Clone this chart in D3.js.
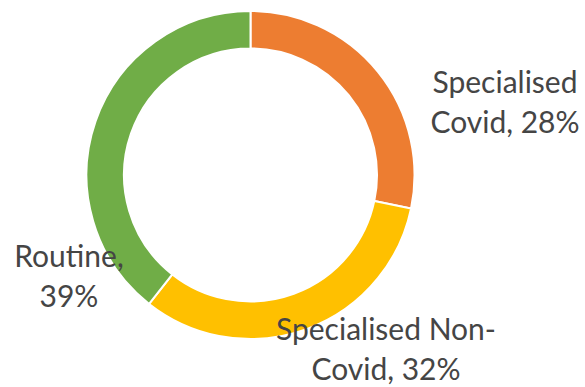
<!DOCTYPE html>
<html>
<head>
<meta charset="utf-8">
<script src="https://cdn.jsdelivr.net/npm/d3@7"></script>
<style>
  html, body { margin: 0; padding: 0; background: #fff; }
  svg { display: block; }
</style>
</head>
<body>
<svg id="chart" width="585" height="387"></svg>
<script>
// Share of activity by service type
const categories = ["Specialised Covid", "Specialised Non-Covid", "Routine"];
const shares = [28, 32, 39];
const colors = ["#ED7D31", "#FFC000", "#70AD47"];

// Label text lines, split the way they wrap
const labelLines = [
  ["Specialised", "Covid, 28%"],
  ["Specialised Non-", "Covid, 32%"],
  ["Routine,", "39%"]
];

const width = 585, height = 387;
const cx = 250.5, cy = 175;
const outerR = 164, innerR = 126.5;

const svg = d3.select("#chart");
const g = svg.append("g").attr("transform", `translate(${cx},${cy})`);

const data = categories.map((c, i) => ({ name: c, value: shares[i], color: colors[i], lines: labelLines[i] }));

const pie = d3.pie().value(d => d.value).sort(null);
const arc = d3.arc().innerRadius(innerR).outerRadius(outerR);

const arcs = pie(data);

g.selectAll("path.slice")
  .data(arcs)
  .join("path")
  .attr("class", "slice")
  .attr("d", arc)
  .attr("fill", d => d.data.color)
  .attr("stroke", "#fff")
  .attr("stroke-width", 2)
  .attr("stroke-linejoin", "miter");

// Label anchor points (centre of first line's baseline)
const labelPos = {
  "Specialised Covid": [505, 93],
  "Specialised Non-Covid": [386, 340],
  "Routine": [69, 267]
};
const lineGap = 40;

const labels = svg.append("g")
  .attr("font-family", "Lato, 'Open Sans', sans-serif")
  .attr("font-size", 30)
  .attr("fill", "#454545")
  .attr("text-anchor", "middle");

arcs.forEach(a => {
  const [x, y] = labelPos[a.data.name];
  const t = labels.append("text").attr("x", x).attr("y", y);
  a.data.lines.forEach((line, i) => {
    t.append("tspan").attr("x", x).attr("y", y + i * lineGap).text(line);
  });
});
</script>
</body>
</html>
